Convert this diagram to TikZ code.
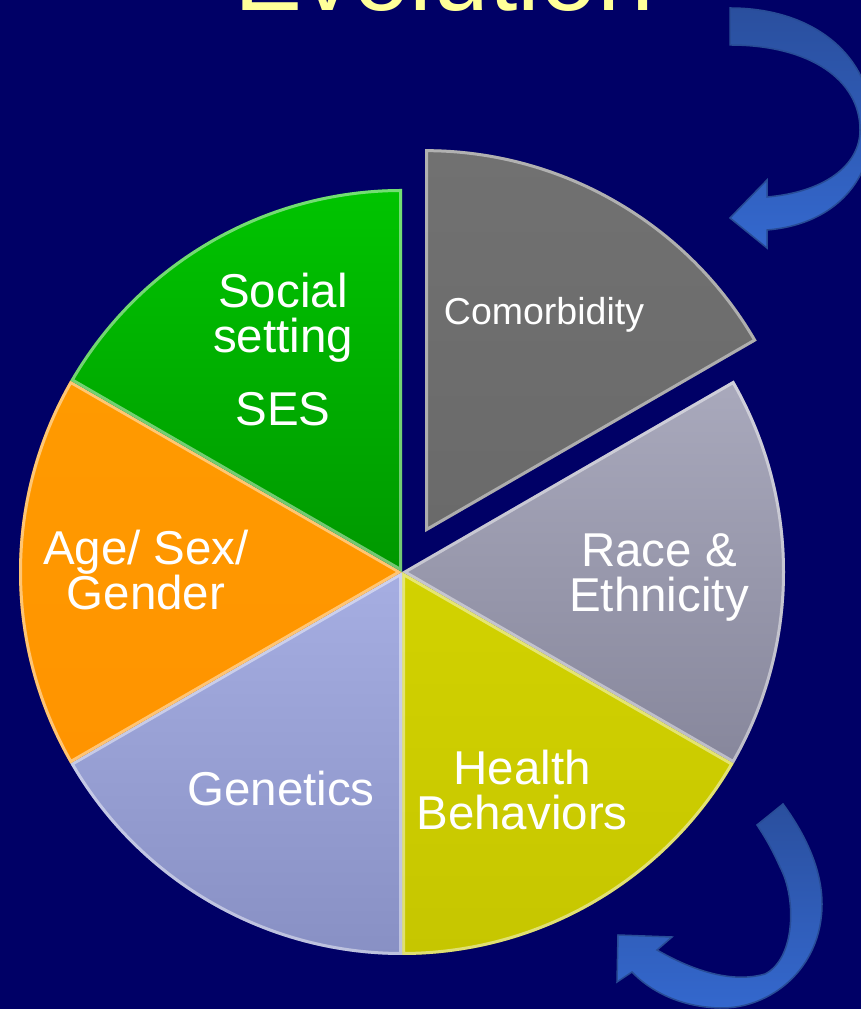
\documentclass[tikz,border=0pt]{standalone}
\usepackage{fontspec}
\setmainfont{Liberation Sans}
\usepackage{xcolor}
\usepackage{tikz}
\definecolor{slideBlue}{HTML}{000066}
\definecolor{titleYellow}{HTML}{FFFF99}
\definecolor{arrowDark}{HTML}{2A4F9E}
\definecolor{arrowLight}{HTML}{3468CE}
\definecolor{arrowEdge}{HTML}{284C96}
\definecolor{comorbTop}{HTML}{717171}
\definecolor{comorbBot}{HTML}{6A6A6A}
\definecolor{raceTop}{HTML}{A9A9BC}
\definecolor{raceBot}{HTML}{87879C}
\definecolor{healthTop}{HTML}{D2D200}
\definecolor{healthBot}{HTML}{C6C600}
\definecolor{geneTop}{HTML}{A6AEE2}
\definecolor{geneBot}{HTML}{8890C4}
\definecolor{ageTop}{HTML}{FF9A00}
\definecolor{ageBot}{HTML}{FF9400}
\definecolor{socialTop}{HTML}{00C400}
\definecolor{socialBot}{HTML}{009800}

\begin{document}
\begin{tikzpicture}[
    x=1pt, y=1pt,
    every node/.style={inner sep=0pt},
    lbl/.style={text=white, align=center, anchor=base,
                font=\fontsize{47.5}{45}\selectfont},
    rim/.style={draw=white, draw opacity=0.45, line width=6pt, line join=round},
    bendarrow/.style={draw=arrowEdge, line width=1.5pt,
                top color=arrowDark, bottom color=arrowLight}
  ]
  \useasboundingbox (0,0) rectangle (861,1009);
  \fill[slideBlue] (0,0) rectangle (861,1009);
  \clip (0,0) rectangle (861,1009);

  \node[lbl, text=titleYellow, font=\fontsize{102}{110}\selectfont] (title) at (444,998) {Evolution};

  %% pie slices, centre (402,437), comorbidity pulled out
  \begin{scope}[shift={(402,437)}]
    \foreach \a/\b/\ct/\cb/\off in {30/90/comorbTop/comorbBot/46,
        -30/30/raceTop/raceBot/0, -90/-30/healthTop/healthBot/0,
        -150/-90/geneTop/geneBot/0, 150/210/ageTop/ageBot/0,
        90/150/socialTop/socialBot/0}
    {
      \begin{scope}[shift={({(\a+\b)/2}:\off pt)}]
        \path[top color=\ct, bottom color=\cb]
          (0,0) -- (\a:383pt) arc[start angle=\a, end angle=\b, radius=383pt] -- cycle;
        \begin{scope}
          \clip (0,0) -- (\a:383pt) arc[start angle=\a, end angle=\b, radius=383pt] -- cycle;
          \draw[rim] (0,0) -- (\a:383pt) arc[start angle=\a, end angle=\b, radius=383pt] -- cycle;
        \end{scope}
      \end{scope}
    }
  \end{scope}

  %% labels (base = last line)
  \node[lbl, font=\fontsize{37.5}{40}\selectfont] (comorb) at (544,684) {Comorbidity};
  \node[lbl] (social) at (283,583) {Social\\setting\\[28pt]SES};
  \node[lbl] (age) at (146,399) {Age/ Sex/\\Gender};
  \node[lbl] (race) at (659,397) {Race \&\\Ethnicity};
  \node[lbl] (health) at (522,179) {Health\\Behaviors};
  \node[lbl] (gene) at (281,203) {Genetics};

  %% curved arrows
  \draw[bendarrow] (730,1001) .. controls (815,1001) and (872,952) .. (872,884)
    .. controls (872,824) and (830,784) .. (767,779) -- (767,761) -- (730,791)
    -- (767,829) -- (767,812) .. controls (825,817) and (860,844) .. (860,879)
    .. controls (860,929) and (810,964) .. (730,964) -- cycle;
  \draw[bendarrow] (783,205) .. controls (805,175) and (822,140) .. (822,105)
    .. controls (822,40) and (770,0) .. (720,1) .. controls (680,2) and (650,18) .. (632,37)
    -- (617,27) -- (618,74) -- (672,72) -- (657,59)
    .. controls (690,40) and (730,25) .. (765,35) .. controls (795,50) and (797,110) .. (780,142)
    .. controls (772,160) and (765,172) .. (757,184) -- cycle;
\end{tikzpicture}
\end{document}
